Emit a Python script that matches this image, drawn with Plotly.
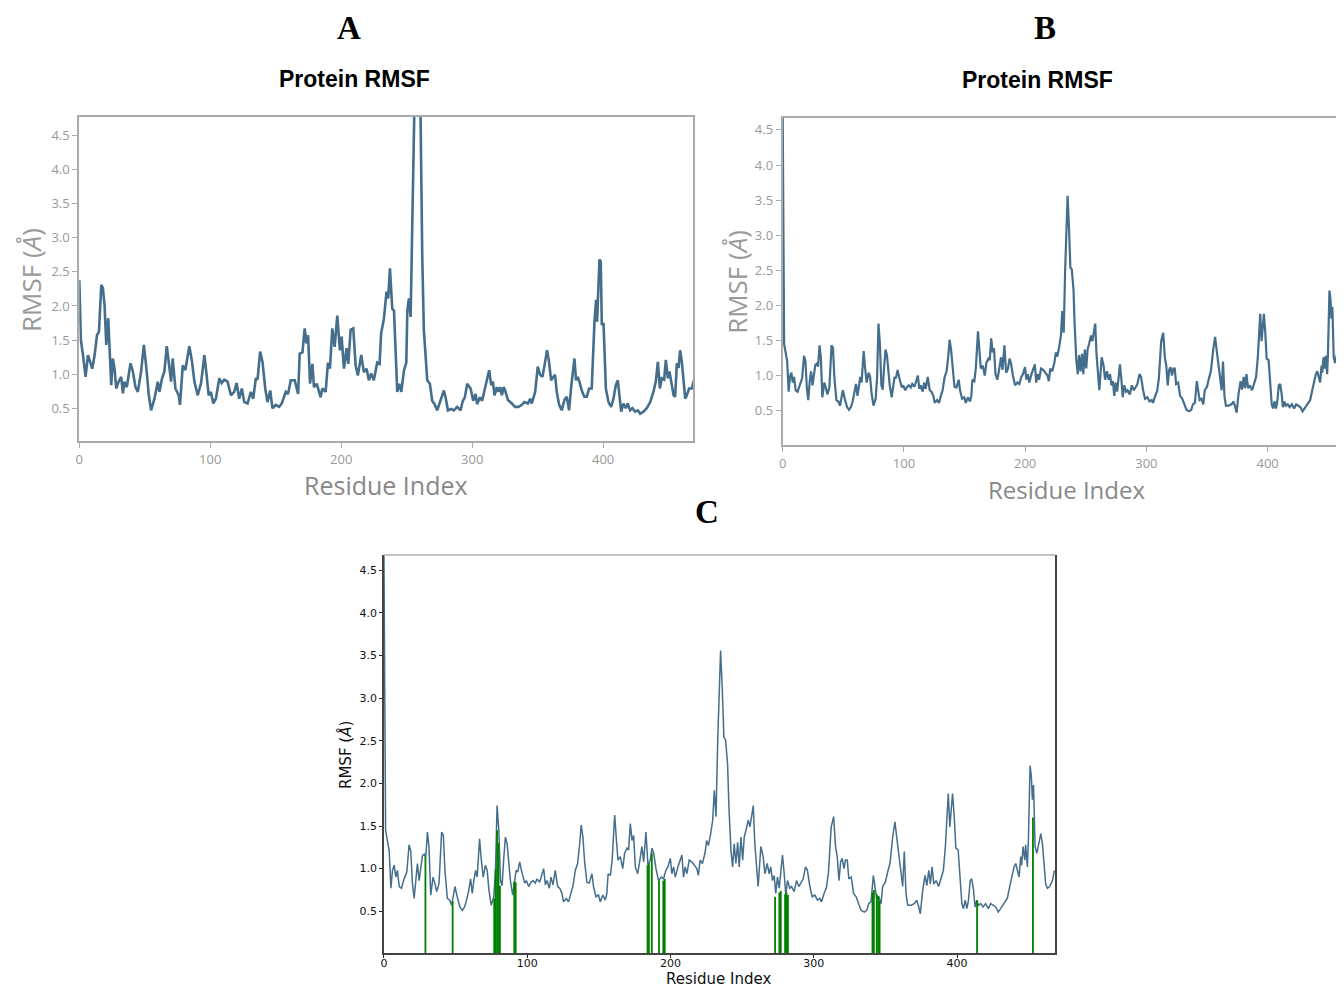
import plotly.graph_objects as go

# ---------------- data ----------------
# Panel A: residue index / RMSF (Angstrom)
a_res = [0.0, 1.2, 2.8, 4.8, 6.6, 8.4, 9.9, 11.7, 13.5, 15.0, 16.8, 18.0, 19.3, 20.6, 22.1, 23.1, 24.4, 25.6, 26.9, 28.2,
         30.0, 32.0, 33.3, 34.5, 36.3, 39.1, 40.9, 42.9, 44.7, 47.2, 49.3, 51.0, 53.1, 54.8, 57.4, 59.9, 61.2, 63.2, 65.0, 66.8,
         68.8, 70.1, 71.3, 73.4, 75.9, 76.9, 79.0, 81.0, 84.0, 86.1, 87.9, 90.4, 93.0, 95.5, 97.2, 98.8, 100.5, 102.3, 104.3, 106.9,
         108.7, 110.7, 113.2, 115.8, 118.3, 120.1, 122.1, 124.1, 126.0, 128.5, 131.0, 132.8, 134.8, 136.1, 138.1, 139.9, 142.0, 143.7, 145.8, 147.5,
         150.0, 152.6, 154.6, 157.7, 159.4, 161.5, 164.5, 167.1, 168.3, 170.4, 172.1, 173.4, 174.7, 176.2, 178.0, 179.2, 181.3, 183.1, 184.3, 185.6,
         188.1, 189.9, 191.4, 193.2, 195.0, 197.0, 199.0, 200.3, 202.1, 204.1, 205.4, 207.2, 209.2, 211.0, 212.7, 215.3, 217.3, 219.4, 221.1, 222.9,
         224.9, 227.5, 229.3, 230.5, 232.6, 234.6, 235.9, 237.2, 239.0, 240.3, 241.5, 242.8, 244.4, 245.9, 247.9, 249.7, 250.5, 251.7, 253.0, 254.3,
         255.5, 257.0, 259.0, 260.6, 261.9, 263.1, 265.7, 267.7, 269.5, 271.3, 273.3, 275.8, 278.4, 279.7, 281.5, 284.0, 286.0, 288.6, 291.1, 292.9,
         294.4, 296.2, 298.8, 300.8, 302.6, 303.8, 305.9, 307.6, 309.4, 311.3, 313.0, 314.5, 315.8, 317.1, 318.9, 320.2, 321.4, 322.7, 324.0, 325.2,
         327.3, 330.3, 332.8, 335.4, 337.9, 339.9, 342.5, 344.3, 345.5, 348.1, 350.1, 351.9, 353.7, 355.7, 357.2, 358.7, 360.3, 362.1, 363.3, 364.6,
         366.4, 368.4, 370.4, 372.2, 374.0, 375.5, 376.8, 378.1, 379.3, 380.6, 381.9, 383.7, 385.7, 387.5, 389.3, 391.3, 393.4, 394.6, 395.4, 397.2,
         398.2, 399.0, 400.3, 402.1, 404.1, 406.1, 407.9, 409.7, 411.2, 412.5, 413.8, 415.5, 417.3, 418.8, 420.6, 422.4, 424.4, 426.5, 428.3, 430.8,
         433.3, 435.9, 438.4, 440.2, 441.8, 443.3, 444.8, 446.6, 447.9, 449.4, 450.7, 452.0, 453.8, 455.0, 456.3, 457.6, 458.8, 460.1, 461.4, 462.7,
         463.9, 465.7, 467.7, 469.3]
a_rmsf = [2.38, 1.50, 1.28, 0.96, 1.28, 1.18, 1.08, 1.28, 1.57, 1.62, 2.31, 2.26, 2.01, 1.43, 1.82, 1.38, 0.84, 1.23, 1.08, 0.79,
          0.89, 0.96, 0.72, 0.89, 0.81, 1.16, 1.04, 0.81, 0.74, 1.04, 1.43, 1.13, 0.69, 0.47, 0.64, 0.89, 0.74, 0.94, 1.04, 1.41,
          1.04, 0.89, 1.23, 0.79, 0.69, 0.55, 1.13, 1.06, 1.41, 1.18, 0.89, 0.69, 0.87, 1.28, 0.99, 0.69, 0.74, 0.57, 0.64, 0.94,
          0.87, 0.92, 0.89, 0.69, 0.74, 0.87, 0.64, 0.79, 0.59, 0.57, 0.74, 0.64, 0.94, 0.92, 1.33, 1.18, 0.79, 0.59, 0.76, 0.50,
          0.55, 0.52, 0.57, 0.74, 0.71, 0.91, 0.91, 0.71, 1.30, 1.32, 1.67, 1.45, 1.57, 0.86, 1.15, 0.81, 0.86, 0.76, 0.66, 0.79,
          0.74, 1.17, 1.08, 1.67, 1.40, 1.86, 1.35, 1.55, 1.08, 1.38, 1.15, 1.65, 1.67, 1.13, 0.98, 1.28, 1.03, 1.08, 0.91, 1.01,
          0.91, 1.17, 1.15, 1.60, 1.81, 2.21, 2.11, 2.55, 1.96, 1.93, 1.23, 0.74, 0.86, 0.74, 1.05, 1.17, 1.93, 2.11, 1.84, 3.31,
          4.80, 6.10, 5.90, 4.78, 2.72, 1.65, 0.91, 0.86, 0.61, 0.56, 0.47, 0.61, 0.76, 0.66, 0.47, 0.49, 0.47, 0.52, 0.47, 0.61,
          0.66, 0.86, 0.79, 0.61, 0.71, 0.56, 0.66, 0.61, 0.76, 0.89, 1.06, 0.84, 0.89, 0.69, 0.81, 0.74, 0.81, 0.69, 0.81, 0.76,
          0.62, 0.57, 0.52, 0.52, 0.55, 0.59, 0.57, 0.64, 0.57, 0.74, 1.11, 0.99, 0.96, 1.18, 1.35, 1.18, 0.91, 0.96, 0.99, 0.74,
          0.55, 0.47, 0.62, 0.67, 0.47, 0.79, 0.99, 1.23, 0.91, 0.96, 0.89, 0.76, 0.67, 0.67, 0.79, 0.79, 1.77, 2.09, 1.77, 2.68,
          2.65, 1.72, 1.75, 0.79, 0.59, 0.52, 0.64, 0.84, 0.91, 0.69, 0.45, 0.57, 0.50, 0.57, 0.47, 0.50, 0.45, 0.47, 0.42, 0.45,
          0.50, 0.59, 0.74, 0.89, 1.18, 0.79, 0.94, 0.92, 1.21, 0.94, 1.04, 0.89, 0.69, 0.67, 1.16, 1.09, 1.35, 1.18, 0.84, 0.64,
          0.69, 0.79, 0.79, 0.91]

# Panels B and C (same trajectory): residue index / RMSF (Angstrom)
bc_res = [0.0, 1.2, 2.6, 3.7, 4.9, 6.0, 7.2, 8.3, 9.4, 10.7, 12.3, 14.1, 16.0, 17.6, 18.8, 19.9, 21.1, 22.2, 23.4, 24.6,
          25.7, 26.9, 28.1, 29.2, 30.4, 31.5, 32.7, 34.3, 35.5, 36.9, 38.5, 40.3, 41.5, 42.6, 44.3, 45.9, 47.3, 48.4, 49.6, 51.2,
          53.1, 54.7, 56.3, 57.7, 59.3, 60.5, 61.7, 62.8, 64.0, 65.1, 66.8, 67.9, 69.3, 70.9, 72.1, 73.3, 74.9, 76.7, 77.9, 79.0,
          80.2, 81.4, 82.5, 83.7, 84.8, 86.0, 87.2, 88.3, 89.9, 91.1, 92.3, 93.4, 94.8, 96.0, 97.1, 98.3, 99.4, 101.1, 102.7, 104.1,
          105.7, 106.9, 108.7, 110.3, 111.5, 112.7, 113.8, 115.5, 116.6, 118.0, 119.6, 121.3, 122.7, 124.3, 125.4, 127.3, 128.9, 130.5, 131.9, 133.6,
          135.2, 136.6, 137.7, 138.9, 140.1, 141.7, 143.3, 145.2, 146.3, 148.0, 149.8, 151.0, 152.8, 154.5, 155.6, 156.5, 158.1, 159.3, 161.1, 162.3,
          163.4, 165.0, 166.7, 168.0, 169.7, 170.8, 172.0, 173.2, 174.3, 175.5, 177.1, 178.3, 180.1, 181.3, 182.9, 184.3, 185.9, 187.1, 188.3, 189.9,
          191.7, 193.6, 195.2, 196.8, 198.2, 199.9, 201.0, 202.2, 203.4, 205.2, 206.9, 208.0, 209.1, 210.3, 211.5, 213.1, 214.9, 216.7, 218.4, 219.5,
          220.7, 222.3, 224.1, 225.3, 226.5, 228.1, 229.5, 230.6, 231.8, 233.0, 233.9, 235.0, 236.2, 237.3, 238.5, 239.9, 240.8, 242.2, 243.4, 244.5,
          245.7, 246.9, 248.0, 249.2, 250.4, 251.5, 252.7, 254.3, 255.5, 256.6, 257.8, 258.9, 260.1, 261.2, 263.1, 264.7, 265.9, 267.5, 268.9, 270.0,
          271.2, 272.4, 273.5, 274.7, 275.9, 277.0, 278.2, 279.4, 280.5, 281.7, 283.3, 284.5, 286.3, 288.0, 289.6, 291.0, 292.6, 294.3, 295.6, 297.3,
          298.9, 300.8, 302.6, 304.3, 305.4, 307.3, 308.9, 310.3, 312.2, 313.9, 315.2, 316.4, 317.6, 318.8, 319.9, 321.1, 322.2, 323.4, 324.5, 326.2,
          327.8, 329.6, 331.5, 333.1, 335.4, 337.0, 338.4, 340.0, 341.6, 342.8, 343.9, 345.4, 347.0, 348.1, 350.0, 351.6, 353.2, 355.1, 356.7, 357.9,
          359.3, 360.9, 362.1, 363.2, 364.4, 365.6, 367.9, 370.2, 371.9, 373.3, 374.4, 376.1, 377.7, 378.9, 380.3, 381.4, 382.6, 383.8, 385.4, 387.2,
          388.8, 390.5, 391.9, 392.7, 393.9, 395.0, 395.7, 396.9, 398.0, 399.2, 400.8, 402.2, 403.4, 404.5, 405.7, 406.9, 408.0, 409.2, 410.3, 411.5,
          412.6, 413.8, 415.0, 416.6, 418.2, 420.0, 421.9, 423.5, 425.3, 427.0, 428.8, 430.5, 432.8, 435.1, 436.8, 438.2, 439.8, 441.0, 442.1, 443.3,
          444.5, 445.1, 446.1, 447.3, 447.9, 449.1, 449.8, 451.0, 451.9, 452.6, 453.4, 454.5, 455.7, 457.3, 458.5, 459.6, 460.8, 461.9, 463.1, 464.7,
          466.6, 468.0]
bc_rmsf = [4.80, 1.45, 1.31, 1.21, 0.77, 0.98, 1.04, 0.90, 0.98, 0.79, 0.77, 0.88, 0.96, 1.28, 1.20, 0.83, 0.65, 0.90, 1.06, 0.86,
           0.98, 1.15, 1.17, 1.13, 1.43, 1.25, 0.69, 0.90, 0.83, 0.73, 0.83, 1.43, 1.39, 0.98, 0.65, 0.63, 0.57, 0.67, 0.79, 0.67,
           0.55, 0.51, 0.55, 0.63, 0.75, 0.88, 0.71, 0.86, 0.98, 0.90, 1.35, 1.12, 0.90, 1.04, 0.98, 0.75, 0.57, 0.67, 0.98, 1.74,
           1.45, 0.86, 0.80, 1.13, 1.37, 1.29, 1.02, 0.86, 0.69, 0.86, 0.98, 0.96, 1.08, 0.98, 0.90, 0.83, 0.86, 0.79, 0.84, 0.86,
           0.83, 0.88, 0.84, 0.92, 1.00, 0.81, 0.86, 0.77, 0.90, 0.81, 0.98, 0.79, 0.77, 0.71, 0.61, 0.65, 0.61, 0.71, 0.79, 0.98,
           1.06, 1.28, 1.51, 1.37, 1.08, 0.84, 0.83, 0.94, 0.79, 0.67, 0.69, 0.61, 0.69, 0.63, 0.71, 0.94, 0.92, 1.10, 1.63, 1.33,
           1.10, 1.14, 1.00, 1.18, 1.24, 1.22, 1.53, 1.33, 1.39, 1.02, 0.94, 1.06, 1.26, 1.08, 1.43, 1.04, 1.10, 1.24, 1.18, 1.00,
           0.86, 0.90, 0.88, 0.98, 1.02, 1.12, 0.94, 1.02, 0.90, 1.02, 1.10, 1.16, 0.90, 1.02, 0.94, 1.10, 1.08, 1.04, 1.00, 0.92,
           1.10, 1.06, 1.18, 1.33, 1.27, 1.41, 1.57, 1.92, 1.61, 2.51, 3.09, 3.56, 3.09, 2.54, 2.51, 2.22, 1.73, 1.22, 1.02, 1.29,
           1.06, 1.31, 1.02, 1.37, 1.10, 1.37, 1.45, 1.57, 1.49, 1.61, 1.74, 1.29, 1.02, 0.79, 1.26, 1.14, 0.94, 1.06, 0.94, 1.02,
           0.86, 0.92, 0.71, 0.90, 0.77, 0.94, 1.16, 0.94, 0.69, 0.86, 0.77, 0.79, 0.73, 0.86, 0.79, 0.83, 0.88, 1.02, 0.98, 0.79,
           0.67, 0.69, 0.63, 0.65, 0.61, 0.71, 0.78, 0.96, 1.49, 1.61, 1.26, 1.14, 0.86, 1.08, 1.12, 1.00, 1.10, 1.10, 0.88, 0.90,
           0.71, 0.67, 0.59, 0.51, 0.49, 0.51, 0.59, 0.61, 0.92, 0.75, 0.65, 0.67, 0.59, 0.79, 0.84, 0.96, 1.06, 1.37, 1.55, 1.37,
           1.18, 0.90, 0.79, 1.20, 0.71, 0.57, 0.57, 0.59, 0.63, 0.55, 0.47, 0.75, 0.92, 0.80, 0.98, 0.82, 1.02, 0.82, 0.86, 0.79,
           0.90, 0.98, 1.26, 1.57, 1.88, 1.49, 1.61, 1.88, 1.63, 1.24, 1.22, 0.86, 0.59, 0.53, 0.63, 0.53, 0.63, 0.86, 0.88, 0.75,
           0.55, 0.63, 0.57, 0.59, 0.55, 0.59, 0.53, 0.59, 0.57, 0.55, 0.49, 0.53, 0.59, 0.65, 0.79, 0.90, 1.02, 1.06, 0.98, 0.90,
           1.14, 1.04, 1.26, 1.10, 1.28, 1.02, 1.33, 2.21, 2.08, 1.81, 1.98, 1.26, 1.18, 1.33, 1.41, 1.29, 1.02, 0.82, 0.77, 0.79,
           0.86, 0.98]

# Panel C ligand-contact residues and bar heights
contact_res = [29, 48, 77, 78, 79, 80, 81, 91, 92, 184, 185, 187, 192, 195, 196,
               273, 276, 277, 280, 281, 282, 341, 342, 344, 345, 346, 414, 453]
contact_h = [1.14, 0.62, 0.65, 1.00, 1.45, 1.30, 0.80, 0.85, 0.84, 1.04, 1.06, 1.18, 0.86, 0.86, 0.88,
             0.67, 0.72, 0.74, 0.70, 0.72, 0.69, 0.72, 0.75, 0.70, 0.68, 0.62, 0.63, 1.60]

x_ticks = [0, 100, 200, 300, 400]
y_ticks = [0.5, 1.0, 1.5, 2.0, 2.5, 3.0, 3.5, 4.0, 4.5]
y_ticklabels = ["0.5", "1.0", "1.5", "2.0", "2.5", "3.0", "3.5", "4.0", "4.5"]

# ---------------- figure ----------------
# The page body has an 8px margin, so the figure is drawn 8px in from the corner.
OFF = 8
W, H = 1344 - OFF, 988 - OFF
LINE = "#446e8c"

fig = go.Figure()
fig.add_trace(go.Scatter(x=a_res, y=a_rmsf, mode="lines", line=dict(color=LINE, width=2.6),
                         xaxis="x", yaxis="y", showlegend=False))
fig.add_trace(go.Scatter(x=bc_res, y=bc_rmsf, mode="lines", line=dict(color=LINE, width=2.2),
                         xaxis="x2", yaxis="y2", showlegend=False))
fig.add_trace(go.Scatter(x=bc_res, y=bc_rmsf, mode="lines", line=dict(color=LINE, width=1.5),
                         xaxis="x3", yaxis="y3", showlegend=False))
cx, cy = [], []
for r, h in zip(contact_res, contact_h):
    cx += [r, r, None]
    cy += [0, h, None]
fig.add_trace(go.Scatter(x=cx, y=cy, mode="lines", line=dict(color="#008000", width=1.8),
                         xaxis="x3", yaxis="y3", showlegend=False))


def px_x(p):
    return (p - OFF) / W


def px_y(p):
    return 1 - (p - OFF) / H


gray_tick_font = dict(family="Open Sans", size=13, color="#999999")
black_tick_font = dict(family="DejaVu Sans", size=11, color="#111111")

common_gray = dict(showgrid=False, zeroline=False, showline=True, linecolor="#aaaaaa", linewidth=2,
                   ticks="outside", ticklen=5, tickcolor="#aaaaaa", tickwidth=1, tickfont=gray_tick_font)
common_black = dict(showgrid=False, zeroline=False, showline=True, linecolor="#444444", linewidth=1.5,
                    ticks="outside", ticklen=3, tickcolor="#222222", tickwidth=1, tickfont=black_tick_font)

fig.update_layout(
    width=W, height=H, margin=dict(l=0, r=0, t=0, b=0),
    paper_bgcolor="white", plot_bgcolor="white",
    xaxis=dict(domain=[px_x(75.5), px_x(691)], range=[0, 468.6], tickvals=x_ticks, anchor="y",
               mirror=True, **common_gray),
    yaxis=dict(domain=[px_y(441), px_y(117)], range=[0.02, 4.77], tickvals=y_ticks, ticktext=y_ticklabels,
               anchor="x", mirror=True, **common_gray),
    xaxis2=dict(domain=[px_x(781), 1.0], range=[0, 463.0], tickvals=x_ticks, anchor="y2",
                mirror=True, **common_gray),
    yaxis2=dict(domain=[px_y(445), px_y(118)], range=[0.01, 4.67], tickvals=y_ticks, ticktext=y_ticklabels,
                anchor="x2", mirror=False, **common_gray),
    xaxis3=dict(domain=[px_x(381), px_x(1054)], range=[0, 468.3], tickvals=x_ticks, anchor="y3",
                mirror=False, ticklabelstandoff=-4, **common_black),
    yaxis3=dict(domain=[px_y(953), px_y(555)], range=[0.01, 4.68], tickvals=y_ticks, ticktext=y_ticklabels,
                anchor="x3", mirror=True, **common_black),
)

# light top border of panel C
fig.add_shape(type="line", xref="x3 domain", yref="y3 domain", x0=0, x1=1, y0=1, y1=1,
              line=dict(color="#b0b0b0", width=1.5))


def ann(text, x, y, size, color, family, angle=0, yanchor="middle"):
    fig.add_annotation(text=text, x=px_x(x), y=px_y(y), xref="paper", yref="paper",
                       xanchor="center", yanchor=yanchor, showarrow=False, textangle=angle,
                       font=dict(size=size, color=color, family=family))


serif = "Liberation Serif, Times New Roman, serif"
bold_sans = "Liberation Sans, Arial, sans-serif"

ann("<b>A</b>", 346, 28, 33, "black", serif)
ann("<b>B</b>", 1044, 28, 33, "black", serif)
ann("<b>C</b>", 705, 512, 33, "black", serif)
ann("<b>Protein RMSF</b>", 352, 79, 23, "black", bold_sans)
ann("<b>Protein RMSF</b>", 1037, 80, 23, "black", bold_sans)

ann("Residue Index", 383, 485, 25, "#888888", "Open Sans")
ann("Residue Index", 1066, 489, 24, "#888888", "Open Sans")
ann("RMSF (<i>Å</i>)", 27, 280, 26, "#999999", "Open Sans", angle=-90)
ann("RMSF (<i>Å</i>)", 735, 282, 26, "#999999", "Open Sans", angle=-90)

ann("Residue Index", 717, 978.5, 15, "#111111", "DejaVu Sans")
ann("RMSF (<i>Å</i>)", 342, 755, 15, "#111111", "DejaVu Sans", angle=-90)

fig.write_html("out.html")
